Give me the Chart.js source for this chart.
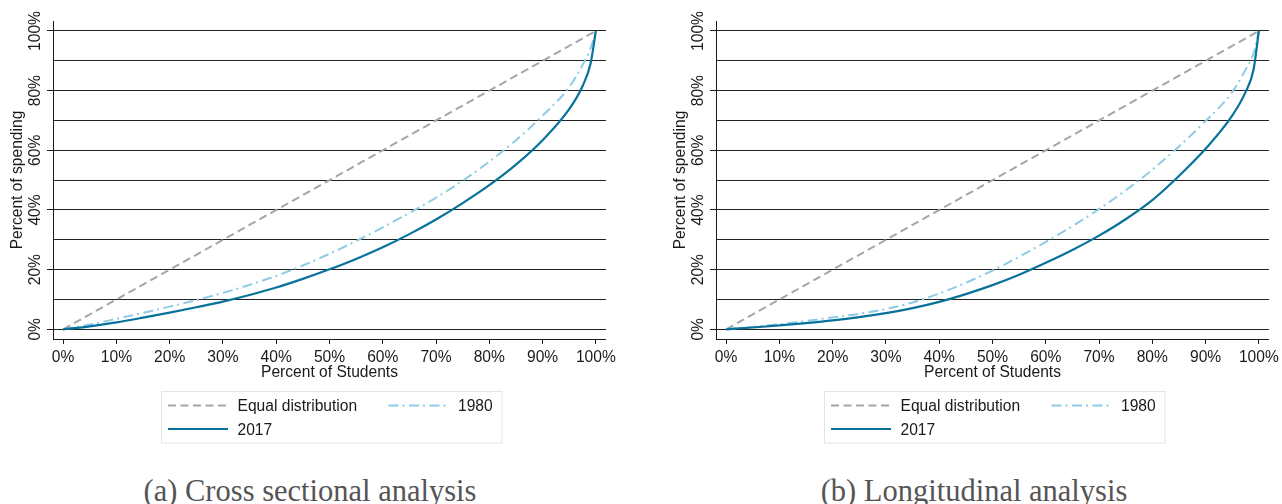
<!DOCTYPE html>
<html>
<head>
<meta charset="utf-8">
<script src="https://cdn.jsdelivr.net/npm/chart.js@4.4.1/dist/chart.umd.min.js"></script>
<style>
  html, body { margin: 0; padding: 0; background: #fff; }
  body { width: 1282px; height: 504px; position: relative; overflow: hidden; }
  .panel { position: absolute; top: 0; width: 620px; height: 450px; }
  .caption {
    position: absolute; top: 476px; width: 500px; text-align: center;
    font-family: "Liberation Serif", "Times New Roman", serif;
    font-size: 30.5px; line-height: 30.5px; color: #555; white-space: nowrap;
  }
</style>
</head>
<body>
<div class="panel" style="left:0"><canvas id="cross" width="620" height="450"></canvas></div>
<div class="panel" style="left:663px"><canvas id="longi" width="620" height="450"></canvas></div>
<div class="caption" style="left:60px">(a) Cross sectional analysis</div>
<div class="caption" style="left:724px">(b) Longitudinal analysis</div>

<script>
// Cumulative share of students (x, %) at which each curve is sampled
const studentShare = [0, 5, 10, 15, 20, 25, 30, 35, 40, 45, 50, 55, 60, 65, 70, 75, 80, 85, 90, 95, 97.5, 99, 100];

// Equal distribution reference line
const equalX = [0, 100];
const equalY = [0, 100];

// (a) Cross sectional analysis: cumulative share of spending (%)
const cross1980 = [0, 1.6, 3.5, 5.5, 7.6, 9.8, 12.2, 14.9, 17.9, 21.4, 25.3, 29.6, 34.2, 39.0, 44.1, 49.8, 56.2, 63.4, 71.6, 81.2, 88.6, 94.2, 100];
const cross2017 = [0, 1.0, 2.3, 3.9, 5.6, 7.4, 9.3, 11.5, 14.0, 16.9, 20.1, 23.6, 27.5, 31.9, 36.8, 42.3, 48.3, 55.2, 63.4, 73.8, 81.5, 89.0, 100];

// (b) Longitudinal analysis: cumulative share of spending (%)
const longi1980 = [0, 0.8, 1.7, 2.8, 4.0, 5.2, 6.8, 9.0, 12.0, 15.6, 19.7, 24.3, 29.3, 34.6, 40.3, 46.6, 53.5, 61.3, 69.8, 79.5, 87.0, 92.5, 100];
const longi2017 = [0, 0.6, 1.3, 2.1, 3.0, 4.1, 5.4, 7.1, 9.2, 11.8, 14.8, 18.3, 22.3, 26.6, 31.4, 36.9, 43.3, 51.4, 60.5, 71.6, 79.5, 87.0, 100];

// Axis ticks
const xTicks = [0, 10, 20, 30, 40, 50, 60, 70, 80, 90, 100];
const yGridTicks = [0, 10, 20, 30, 40, 50, 60, 70, 80, 90, 100];
const yLabelTicks = [0, 20, 40, 60, 80, 100];

const FONT = '"Liberation Sans", Arial, Helvetica, sans-serif';
const FONT_SIZE = 15.6;
const textColor = '#1a1a1a';
const axisColor = '#1a1a1a';
const gridColor = '#222222';
const equalColor = '#a6a6a6';
const color1980 = '#8ecbe4';
const color2017 = '#08729a';

Chart.defaults.font.family = FONT;
Chart.defaults.font.size = FONT_SIZE;
Chart.defaults.color = textColor;

// Rotated y tick labels (reading bottom to top)
const rotatedYLabels = {
  id: 'rotatedYLabels',
  afterDraw(chart) {
    const { ctx, chartArea, scales } = chart;
    const y = scales.y;
    ctx.save();
    ctx.font = FONT_SIZE + 'px ' + FONT;
    ctx.fillStyle = textColor;
    ctx.textAlign = 'center';
    ctx.textBaseline = 'alphabetic';
    yLabelTicks.forEach(v => {
      ctx.save();
      ctx.translate(chartArea.left - 13, y.getPixelForValue(v));
      ctx.rotate(-Math.PI / 2);
      ctx.fillText(v + '%', 0, 0);
      ctx.restore();
    });
    ctx.restore();
  }
};

// Boxed two-column legend under the plot
const boxedLegend = {
  id: 'boxedLegend',
  afterDraw(chart) {
    const { ctx, chartArea } = chart;
    const left = Math.round(chartArea.left + 107.7) + 0.5;
    const top = 391.5;
    const width = 340.5, height = 51.5;
    ctx.save();
    ctx.strokeStyle = '#e4e4e4';
    ctx.lineWidth = 1;
    ctx.setLineDash([]);
    ctx.strokeRect(left, top, width, height);

    const slots = [[0, 0], [1, 0], [0, 1]];   // [column, row] for each dataset
    const colX = [6.5, 227];
    const rowY = [14, 37.5];
    ctx.font = FONT_SIZE + 'px ' + FONT;
    ctx.textBaseline = 'middle';
    ctx.textAlign = 'left';
    chart.data.datasets.forEach((ds, i) => {
      const [col, row] = slots[i];
      const x = left + colX[col];
      const yy = top + rowY[row];
      ctx.beginPath();
      ctx.setLineDash(ds.borderDash || []);
      ctx.strokeStyle = ds.borderColor;
      ctx.lineWidth = ds.borderWidth;
      ctx.moveTo(x, yy);
      ctx.lineTo(x + 60, yy);
      ctx.stroke();
      ctx.setLineDash([]);
      ctx.fillStyle = textColor;
      ctx.fillText(ds.label, x + 69.5, yy + 1.2);
    });
    ctx.restore();
  }
};

function toPoints(xs, ys) {
  return xs.map((x, i) => ({ x: x, y: ys[i] }));
}

function drawLorenz(canvasId, series1980, series2017) {
  return new Chart(document.getElementById(canvasId), {
    type: 'line',
    data: {
      datasets: [
        {
          label: 'Equal distribution',
          data: toPoints(equalX, equalY),
          borderColor: equalColor,
          borderWidth: 2,
          borderDash: [8, 4.5],
          order: 2
        },
        {
          label: '1980',
          data: toPoints(studentShare, series1980),
          borderColor: color1980,
          borderWidth: 2,
          borderDash: [10, 4, 2, 4.5],
          order: 1
        },
        {
          label: '2017',
          data: toPoints(studentShare, series2017),
          borderColor: color2017,
          borderWidth: 2.2,
          order: 0
        }
      ]
    },
    options: {
      responsive: false,
      animation: false,
      devicePixelRatio: 1,
      layout: { padding: { left: 0, top: 21, right: 12, bottom: 60 } },
      elements: {
        point: { radius: 0 },
        line: { cubicInterpolationMode: 'monotone', fill: false }
      },
      plugins: {
        legend: { display: false },
        tooltip: { enabled: false }
      },
      scales: {
        x: {
          type: 'linear',
          min: -1.9,
          max: 101.9,
          afterBuildTicks: s => { s.ticks = xTicks.map(v => ({ value: v })); },
          afterFit: s => { s.height = 51; },
          grid: { drawOnChartArea: false, drawTicks: true, tickLength: 5, color: axisColor, lineWidth: 1 },
          border: { display: true, color: axisColor, width: 1 },
          ticks: {
            padding: 4,
            color: textColor,
            maxRotation: 0,
            autoSkip: false,
            callback: v => v + '%'
          },
          title: {
            display: true,
            text: 'Percent of Students',
            color: textColor,
            padding: { top: 0, bottom: 7.7 }
          }
        },
        y: {
          type: 'linear',
          min: -3.25,
          max: 103.35,
          afterBuildTicks: s => { s.ticks = yGridTicks.map(v => ({ value: v })); },
          afterFit: s => { s.width = 53; },
          grid: {
            color: gridColor,
            lineWidth: 1,
            drawTicks: true,
            tickLength: 6,
            tickColor: c => (c.tick && c.tick.value % 20 === 0) ? axisColor : 'rgba(0,0,0,0)'
          },
          border: { display: true, color: axisColor, width: 1 },
          ticks: { display: false },
          title: {
            display: true,
            text: 'Percent of spending',
            color: textColor,
            padding: { top: 8.7, bottom: 0 }
          }
        }
      }
    },
    plugins: [rotatedYLabels, boxedLegend]
  });
}

drawLorenz('cross', cross1980, cross2017);
drawLorenz('longi', longi1980, longi2017);
</script>
</body>
</html>
